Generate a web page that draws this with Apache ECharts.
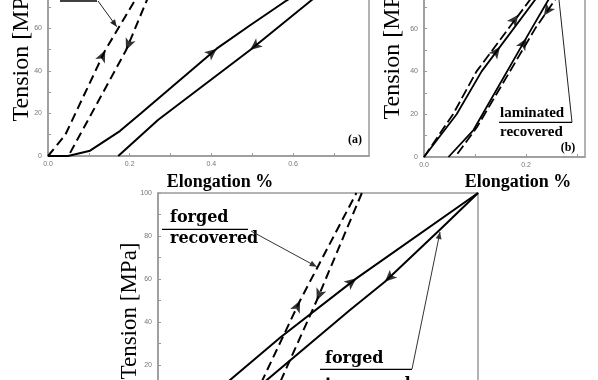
<!DOCTYPE html>
<html><head><meta charset="utf-8">
<script src="https://cdn.jsdelivr.net/npm/echarts/dist/echarts.min.js"></script>
<style>html,body{margin:0;padding:0;background:#fff}#c{width:598px;height:380px}</style>
</head><body><div id="c"></div>
<script>
// ---------- DATA (x: Elongation %, y: Tension MPa) ----------
// Panel (a)
const aSolidLoadX   = [0, 0.049, 0.103, 0.176, 0.227, 0.413, 0.495, 0.585, 0.78];
const aSolidLoadY   = [0, 0, 2.5, 11.7, 20, 50.4, 61.4, 73.1, 98];
const aSolidUnloadX = [0.80, 0.645, 0.495, 0.27, 0.172];
const aSolidUnloadY = [98, 73.1, 49.8, 17, 0];
const aDashLoadX    = [0, 0.042, 0.14, 0.213, 0.30];
const aDashLoadY    = [0, 9.8, 49.6, 73.1, 100];
const aDashUnloadX  = [0.30, 0.242, 0.191, 0.05];
const aDashUnloadY  = [100, 73.1, 49.6, 0];
// Panel (b)
const bDashLoadX    = [0, 0.057, 0.103, 0.208, 0.29];
const bDashLoadY    = [0, 20, 40, 73.5, 100];
const bSolidLoadX   = [0, 0.064, 0.113, 0.218, 0.30];
const bSolidLoadY   = [0, 20, 40, 73.5, 100];
const bSolidUnloadX = [0.308, 0.244, 0.211, 0.097, 0.048];
const bSolidUnloadY = [100, 73.5, 60, 12.6, 0];
const bDashUnloadX  = [0.321, 0.257, 0.218, 0.104, 0.061];
const bDashUnloadY  = [100, 73.5, 60, 14, 0];
// Bottom panel
const cSolidLoadX   = [0.13, 0.225, 0.384, 0.62, 1.0];
const cSolidLoadY   = [0, 13, 33, 60.3, 100];
const cSolidUnloadX = [1.0, 0.88, 0.709, 0.6, 0.34, 0.24];
const cSolidUnloadY = [100, 82.8, 58.7, 45.6, 13, 0];
const cDashLoadX    = [0.285, 0.329, 0.444, 0.62];
const cDashLoadY    = [0, 13.8, 50, 100];
const cDashUnloadX  = [0.637, 0.496, 0.387, 0.347];
const cDashUnloadY  = [100, 50, 13.8, 0];
// direction arrows on curves: [curve, x, y, direction along curve (1 = array order)]
const arrowMarks = [
  ['aSolidLoad', 0.413, 50.4, 1], ['aSolidUnload', 0.495, 49.8, 1],
  ['aDashLoad', 0.14, 49.6, 1], ['aDashUnload', 0.191, 49.6, 1],
  ['bDashLoad', 0.185, 66.5, 1], ['bSolidLoad', 0.149, 51.5, 1],
  ['bDashUnload', 0.235, 66, 1], ['bSolidUnload', 0.201, 55.5, -1],
  ['cSolidLoad', 0.62, 60.3, 1], ['cSolidUnload', 0.709, 58.7, 1],
  ['cDashLoad', 0.444, 50, 1], ['cDashUnload', 0.496, 50, 1]
];
// tick label texts
const xTickLabels = ['0.0', '0.2', '0.4', '0.6'];
const yTickLabels = ['0', '20', '40', '60', '80', '100'];

// ---------- CHART ----------
const curves = {
  aSolidLoad:   {g:0, x:aSolidLoadX, y:aSolidLoadY, dash:false},
  aSolidUnload: {g:0, x:aSolidUnloadX, y:aSolidUnloadY, dash:false},
  aDashLoad:    {g:0, x:aDashLoadX, y:aDashLoadY, dash:true},
  aDashUnload:  {g:0, x:aDashUnloadX, y:aDashUnloadY, dash:true},
  bDashLoad:    {g:1, x:bDashLoadX, y:bDashLoadY, dash:true},
  bSolidLoad:   {g:1, x:bSolidLoadX, y:bSolidLoadY, dash:false},
  bSolidUnload: {g:1, x:bSolidUnloadX, y:bSolidUnloadY, dash:false},
  bDashUnload:  {g:1, x:bDashUnloadX, y:bDashUnloadY, dash:true},
  cSolidLoad:   {g:2, x:cSolidLoadX, y:cSolidLoadY, dash:false},
  cSolidUnload: {g:2, x:cSolidUnloadX, y:cSolidUnloadY, dash:false},
  cDashLoad:    {g:2, x:cDashLoadX, y:cDashLoadY, dash:true},
  cDashUnload:  {g:2, x:cDashUnloadX, y:cDashUnloadY, dash:true}
};
const zip = (xs, ys) => xs.map((v, i) => [v, ys[i]]);
const frame = '#9a9a9a';
function xAx(g, max, show) {
  return {type:'value', gridIndex:g, min:0, max:max, interval:0.1,
    axisLine:{show:true, onZero:false, lineStyle:{color:frame, width:1.5}},
    axisTick:{show:true, inside:true, length:3, lineStyle:{color:frame}},
    axisLabel:{show:show, fontSize:7, color:'#777', margin:5, showMaxLabel:false,
      formatter: v => { const s = v.toFixed(1); return xTickLabels.includes(s) ? s : ''; }},
    splitLine:{show:false}};
}
function yAx(g) {
  return {type:'value', gridIndex:g, min:0, max:100, interval:10,
    axisLine:{show:true, onZero:false, lineStyle:{color:frame, width:1.5}},
    axisTick:{show:true, inside:true, length:3, lineStyle:{color:frame}},
    axisLabel:{fontSize:7, color:'#777', margin:6,
      formatter: v => { const s = String(Math.round(v)); return yTickLabels.includes(s) && v % 20 === 0 ? s : ''; }},
    splitLine:{show:false}};
}
const series = [];
Object.keys(curves).forEach(k => {
  const c = curves[k];
  series.push({type:'line', id:k, xAxisIndex:c.g, yAxisIndex:c.g, data:zip(c.x, c.y),
    showSymbol:false, silent:true, clip:true,
    lineStyle:{color:'#000', width:c.g === 1 ? 1.8 : 2, type:c.dash ? (c.g === 1 ? [10, 4] : [9, 5]) : 'solid'}});
});
[0,1,2].forEach(g => series.push({type:'scatter', id:'arr' + g, xAxisIndex:g, yAxisIndex:g,
  symbol:'arrow', symbolSize:[8, 12], itemStyle:{color:'#000'}, data:[]}));

function arrowLine(x1, y1, x2, y2, col) {
  const ang = Math.atan2(y2 - y1, x2 - x1), L = 7, W = 3;
  const bx = x2 - L * Math.cos(ang), by = y2 - L * Math.sin(ang);
  const px = -Math.sin(ang) * W, py = Math.cos(ang) * W;
  return [
    {type:'line', shape:{x1, y1, x2, y2}, style:{stroke:col, lineWidth:1}},
    {type:'polygon', shape:{points:[[x2, y2], [bx + px, by + py], [bx - px, by - py]]}, style:{fill:col}}
  ];
}
const serif = '"Liberation Serif", "Times New Roman", serif';
const txt = (text, x, y, font, rot, align) => ({type:'text', x, y, rotation:rot || 0,
  style:{text, font, fill:'#000', textAlign:align || 'center', textVerticalAlign:'middle'}});
const graphics = [
  txt('Tension [MPa]', 22, 50, '24px ' + serif, Math.PI / 2),
  txt('Tension [MPa]', 393, 48, '24px ' + serif, Math.PI / 2),
  txt('Tension [MPa]', 130, 311, '23px ' + serif, Math.PI / 2),
  txt('Elongation %', 220, 182, 'bold 18px ' + serif),
  txt('Elongation %', 518, 182, 'bold 18px ' + serif),
  txt('(a)', 355, 140, 'bold 12px ' + serif),
  txt('(b)', 568, 148, 'bold 12px ' + serif),
  txt('laminated', 500, 113, 'bold 15px ' + serif, 0, 'left'),
  txt('recovered', 500, 132, 'bold 15px ' + serif, 0, 'left'),
  {type:'line', shape:{x1:499, y1:122.3, x2:572, y2:122.3}, style:{stroke:'#000', lineWidth:1.2}},
  {type:'line', shape:{x1:572, y1:122.3, x2:559, y2:0}, style:{stroke:'#222', lineWidth:1}},
  {type:'line', shape:{x1:60, y1:1, x2:97, y2:1}, style:{stroke:'#000', lineWidth:1.5}},
  ...arrowLine(98, 1, 116.7, 26.7, '#222'),
  txt('forged', 170, 218, 'bold 16px "DejaVu Serif", serif', 0, 'left'),
  txt('recovered', 170, 238.5, 'bold 16px "DejaVu Serif", serif', 0, 'left'),
  {type:'line', shape:{x1:162, y1:229.3, x2:248, y2:229.3}, style:{stroke:'#000', lineWidth:1.3}},
  ...arrowLine(251, 231, 316.7, 266.7, '#333'),
  txt('forged', 325, 359, 'bold 16px "DejaVu Serif", serif', 0, 'left'),
  txt('tempered', 325, 385, 'bold 16px "DejaVu Serif", serif', 0, 'left'),
  {type:'line', shape:{x1:320, y1:369.3, x2:412, y2:369.3}, style:{stroke:'#000', lineWidth:1.3}},
  ...arrowLine(412, 369, 440, 232, '#333')
];

const gridBase = {show:true, borderColor:frame, borderWidth:1.5, containLabel:false, outerBoundsMode:'none'};
const option = {
  animation:false,
  backgroundColor:'#fff',
  grid:[
    Object.assign({left:48, top:-57, width:321, height:213}, gridBase),
    Object.assign({left:424, top:-57, width:161, height:214}, gridBase),
    Object.assign({left:158, top:193, width:320, height:215}, gridBase)
  ],
  xAxis:[xAx(0, 0.786, true), xAx(1, 0.3157, true), xAx(2, 1, false)],
  yAxis:[yAx(0), yAx(1), yAx(2)],
  series:series,
  graphic:{elements:graphics}
};
const chart = echarts.init(document.getElementById('c'), null, {renderer:'canvas'});
chart.setOption(option);

// orient the direction arrows along their curves (in pixel space)
const arrData = [[], [], []];
arrowMarks.forEach(([name, ax, ay, dir]) => {
  const c = curves[name];
  const P = c.x.map((v, i) => chart.convertToPixel({gridIndex:c.g}, [v, c.y[i]]));
  const q = chart.convertToPixel({gridIndex:c.g}, [ax, ay]);
  let best = 0, bd = Infinity;
  for (let i = 0; i < P.length - 1; i++) {
    const [x1, y1] = P[i], [x2, y2] = P[i + 1];
    const dx = x2 - x1, dy = y2 - y1, l2 = dx * dx + dy * dy || 1;
    let t = ((q[0] - x1) * dx + (q[1] - y1) * dy) / l2; t = Math.max(0, Math.min(1, t));
    const d = Math.hypot(q[0] - (x1 + t * dx), q[1] - (y1 + t * dy));
    if (d < bd) { bd = d; best = i; }
  }
  let dx = P[best + 1][0] - P[best][0], dy = P[best + 1][1] - P[best][1];
  dx *= dir; dy *= dir;
  const theta = Math.atan2(-dy, dx) * 180 / Math.PI;
  arrData[c.g].push({value:[ax, ay], symbolRotate:theta - 90});
});
chart.setOption({series:[0,1,2].map(g => ({id:'arr' + g, data:arrData[g]}))});
</script></body></html>
